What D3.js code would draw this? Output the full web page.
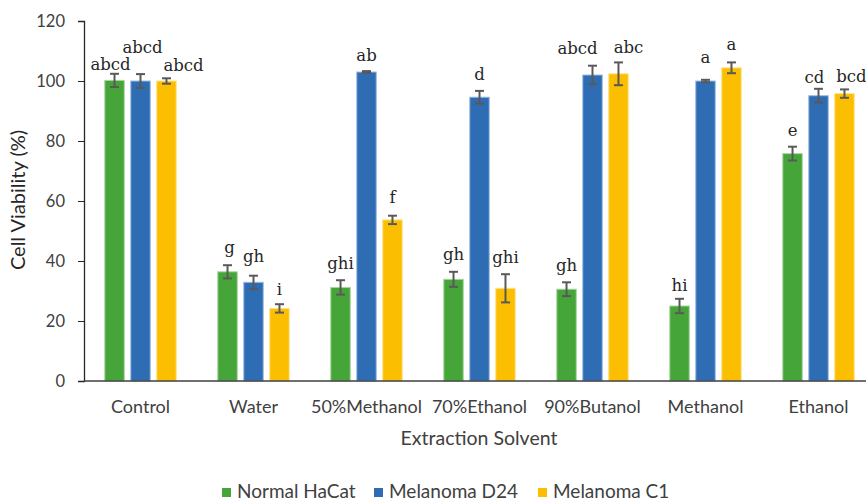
<!DOCTYPE html>
<meta charset="utf-8">
<script src="https://cdn.jsdelivr.net/npm/d3@7"></script>
<style>
  body { margin: 0; background: #fff; }
  text { font-family: Lato, "Open Sans", sans-serif; }
</style>
<div id="chart"></div>
<script>

// data
var categories = ["Control", "Water", "50%Methanol", "70%Ethanol", "90%Butanol", "Methanol", "Ethanol"]
var series = ["Normal HaCat", "Melanoma D24", "Melanoma C1"]
var hacat = [100.2, 36.4, 31.2, 33.9, 30.6, 25.0, 75.8]
var d24 = [100.0, 32.9, 103.0, 94.6, 102.0, 100.0, 95.1]
var c1 = [100.0, 24.2, 53.7, 30.9, 102.4, 104.4, 95.8]
var hacatErr = [2.2, 2.2, 2.4, 2.5, 2.3, 2.4, 2.3]
var d24Err = [2.3, 2.2, 0.3, 2.1, 3.1, 0.4, 2.3]
var c1Err = [0.9, 1.4, 1.4, 4.7, 3.8, 1.8, 1.4]
var hacatLetters = ["abcd", "g", "ghi", "gh", "gh", "hi", "e"]
var d24Letters = ["abcd", "gh", "ab", "d", "abcd", "a", "cd"]
var c1Letters = ["abcd", "i", "f", "ghi", "abc", "a", "bcd"]
var yTicks = [0, 20, 40, 60, 80, 100, 120]

// hand placed letter nudges (px), as in the original figure
var nudgeX = [[-4, 2, 0, 0, 0, 0, 0], [2, 0, 0, 0, -15, 0, -4], [17, 0, 0, 0, 10, 0, 7]]
var nudgeY = [[6, -2, -1, -2, -1, 2, -1], [-11, -4, 0, -1, -2, -7, 4], [3, 1, -3, -1, 1, -2, 3]]

var colors = ["#46a538", "#2e6db4", "#fbbe00"]
var strokes = ["#a9d6a0", "#9dbbe0", "#fde38a"]

var width = 866, height = 502
var svg = d3.select("#chart").append("svg")
  .attr("width", width)
  .attr("height", height)

var x = d3.scaleBand().domain(categories).range([84, 84 + 7 * 113]).padding(0)
var x1 = d3.scaleBand().domain(series).range([0, x.bandwidth()])
  .paddingInner(0.25).paddingOuter(0.8)
var y = d3.scaleLinear().domain([0, 120]).range([381, 21])

var rows = []
var vals = [hacat, d24, c1], errs = [hacatErr, d24Err, c1Err], lets = [hacatLetters, d24Letters, c1Letters]
series.forEach(function(s, si) {
  categories.forEach(function(c, ci) {
    rows.push({cat: c, s: s, si: si, ci: ci, v: vals[si][ci], e: errs[si][ci], l: lets[si][ci]})
  })
})

// y axis
var yAxis = svg.append("g")
  .attr("transform", "translate(84,0)")
  .call(d3.axisLeft(y).tickValues(yTicks).tickSize(6).tickPadding(13))
yAxis.select(".domain").attr("stroke", "#262626").attr("stroke-width", 1.3)
yAxis.selectAll(".tick line").attr("stroke", "#262626")
yAxis.selectAll("text").attr("font-size", 16.5).attr("fill", "#404040")
  .style("font-family", "Lato, sans-serif")

// bars
svg.selectAll("rect.bar")
  .data(rows)
  .enter().append("rect")
  .attr("class", "bar")
  .attr("x", function(d) { return x(d.cat) + x1(d.s) })
  .attr("y", function(d) { return y(d.v) })
  .attr("width", x1.bandwidth())
  .attr("height", function(d) { return y(0) - y(d.v) })
  .attr("fill", function(d) { return colors[d.si] })
  .attr("stroke", function(d) { return strokes[d.si] })
  .attr("stroke-width", 1)

// error bars
var eb = svg.selectAll("g.err").data(rows).enter().append("g").attr("class", "err")
  .attr("stroke", "#595959").attr("stroke-width", 2)
eb.append("line")
  .attr("x1", function(d) { return x(d.cat) + x1(d.s) + x1.bandwidth() / 2 })
  .attr("x2", function(d) { return x(d.cat) + x1(d.s) + x1.bandwidth() / 2 })
  .attr("y1", function(d) { return y(d.v - d.e) })
  .attr("y2", function(d) { return y(d.v + d.e) })
eb.selectAll("line.cap")
  .data(function(d) { return [[d, d.v - d.e], [d, d.v + d.e]] })
  .enter().append("line")
  .attr("class", "cap")
  .attr("x1", function(p) { return x(p[0].cat) + x1(p[0].s) + x1.bandwidth() / 2 - 4.5 })
  .attr("x2", function(p) { return x(p[0].cat) + x1(p[0].s) + x1.bandwidth() / 2 + 4.5 })
  .attr("y1", function(p) { return y(p[1]) })
  .attr("y2", function(p) { return y(p[1]) })

// x axis line
svg.append("line")
  .attr("x1", 84).attr("x2", width)
  .attr("y1", y(0)).attr("y2", y(0))
  .attr("stroke", "#404040").attr("stroke-width", 1.3)

// letters
svg.selectAll("text.letter")
  .data(rows)
  .enter().append("text")
  .attr("class", "letter")
  .attr("x", function(d) { return x(d.cat) + x1(d.s) + x1.bandwidth() / 2 + nudgeX[d.si][d.ci] })
  .attr("y", function(d) { return y(d.v + d.e) - 10 + nudgeY[d.si][d.ci] })
  .attr("text-anchor", "middle")
  .style("font-family", "'DejaVu Serif', serif")
  .attr("font-size", 16.5)
  .attr("fill", "#262626")
  .text(function(d) { return d.l })

// category labels
svg.selectAll("text.cat")
  .data(categories)
  .enter().append("text")
  .attr("class", "cat")
  .attr("x", function(d) { return x(d) + x.bandwidth() / 2 })
  .attr("y", 413)
  .attr("text-anchor", "middle")
  .attr("font-size", 18)
  .attr("fill", "#404040")
  .text(function(d) { return d })

// axis titles
svg.append("text")
  .attr("x", 479).attr("y", 445)
  .attr("text-anchor", "middle")
  .attr("font-size", 19.5)
  .attr("fill", "#404040")
  .text("Extraction Solvent")

svg.append("text")
  .attr("transform", "translate(25,200) rotate(-90)")
  .attr("text-anchor", "middle")
  .attr("font-size", 20)
  .attr("fill", "#262626")
  .text("Cell Viability (%)")

// legend
var legX = [222, 374, 538]
var leg = svg.selectAll("g.leg").data(series).enter().append("g")
  .attr("class", "leg")
  .attr("transform", function(d, i) { return "translate(" + legX[i] + ",488)" })
leg.append("rect")
  .attr("width", 9).attr("height", 9).attr("y", 0)
  .attr("fill", function(d, i) { return colors[i] })
leg.append("text")
  .attr("x", 15).attr("y", 10)
  .attr("font-size", 19)
  .attr("fill", "#404040")
  .text(function(d) { return d })

</script>
